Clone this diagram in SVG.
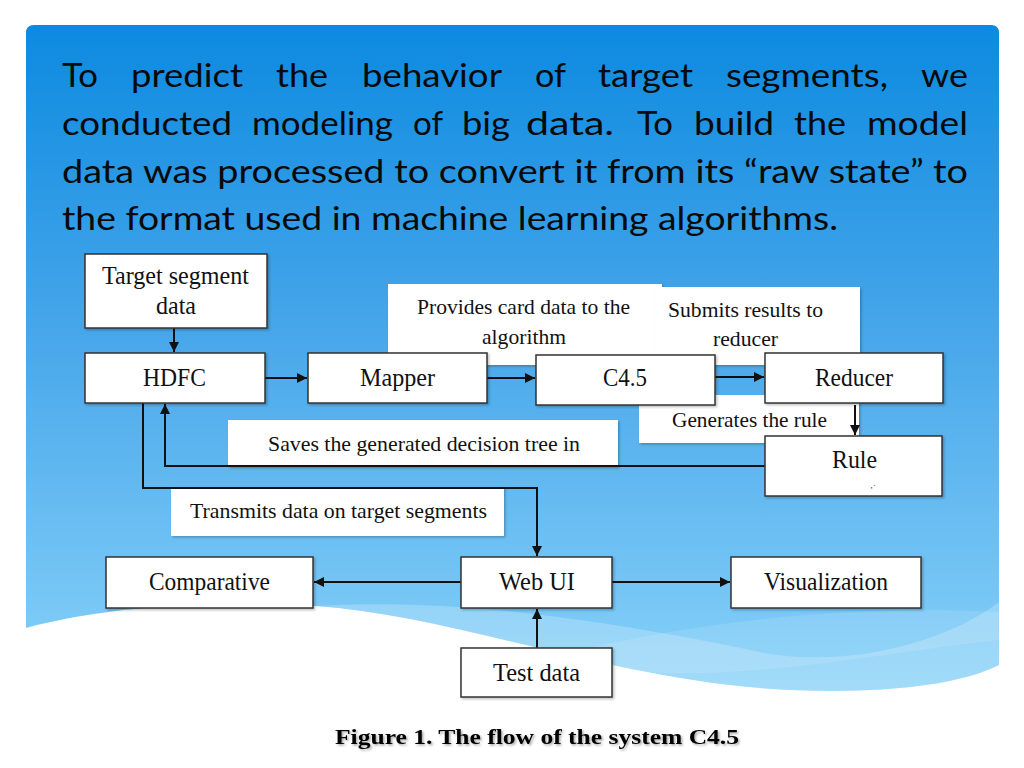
<svg xmlns="http://www.w3.org/2000/svg" width="1024" height="768" viewBox="0 0 1024 768">
<defs>
<linearGradient id="bg" x1="0" y1="25" x2="0" y2="695" gradientUnits="userSpaceOnUse">
<stop offset="0" stop-color="#0c8ae0"/>
<stop offset="0.45" stop-color="#46a6ea"/>
<stop offset="0.85" stop-color="#76c6f5"/>
<stop offset="1" stop-color="#88d2f8"/>
</linearGradient>
<filter id="sh" x="-5%" y="-10%" width="110%" height="125%">
<feDropShadow dx="1.5" dy="1.5" stdDeviation="1" flood-color="#000" flood-opacity="0.25"/>
</filter>
<filter id="tsh" x="-5%" y="-30%" width="110%" height="160%">
<feDropShadow dx="1.5" dy="1.5" stdDeviation="1.2" flood-color="#000" flood-opacity="0.35"/>
</filter>
<marker id="ah" viewBox="0 0 10 10" refX="10" refY="5" markerWidth="11" markerHeight="10" markerUnits="userSpaceOnUse" orient="auto">
<path d="M0,0 L10,5 L0,10 Z" fill="#111"/>
</marker>
<style>
.body{font-family:Lato,"Noto Sans","Liberation Sans",sans-serif;font-size:33px;fill:#0a0a0a}
.node rect{fill:#fff;stroke:#333;stroke-width:1.5}
.lbl rect{fill:#fff}
.t{font-family:"Liberation Serif","Times New Roman",serif;font-size:25px;fill:#111}
.l{font-family:"Liberation Serif","Times New Roman",serif;font-size:22px;fill:#111}
.c{fill:none;stroke:#111;stroke-width:2}
.cap{font-family:"Liberation Serif","Times New Roman",serif;font-size:21px;font-weight:bold;fill:#000}
</style>
</defs>
<rect width="1024" height="768" fill="#fff"/>
<path d="M34 25 H991 Q999 25 999 33 V665 C950 690 850 695 760 688 C600 675 450 615 315 606 C200 600 100 608 26 628 V33 Q26 25 34 25 Z" fill="url(#bg)"/>
<path d="M315 606 C450 598 600 618 760 652 C850 670 950 640 999 602 V665 C950 690 850 695 760 688 C600 675 450 615 315 606 Z" fill="#fff" opacity="0.22"/>
<path d="M560 655 C700 620 850 605 999 612 V640 C900 650 760 680 640 672 Z" fill="#fff" opacity="0.12"/>

<g id="paragraph" class="body">
<text x="62" y="87" textLength="36" lengthAdjust="spacingAndGlyphs">To</text>
<text x="131" y="87" textLength="112" lengthAdjust="spacingAndGlyphs">predict</text>
<text x="276" y="87" textLength="52" lengthAdjust="spacingAndGlyphs">the</text>
<text x="362" y="87" textLength="140" lengthAdjust="spacingAndGlyphs">behavior</text>
<text x="535" y="87" textLength="31" lengthAdjust="spacingAndGlyphs">of</text>
<text x="598" y="87" textLength="95" lengthAdjust="spacingAndGlyphs">target</text>
<text x="726" y="87" textLength="162" lengthAdjust="spacingAndGlyphs">segments,</text>
<text x="921" y="87" textLength="47" lengthAdjust="spacingAndGlyphs">we</text>
<text x="62" y="135" textLength="170" lengthAdjust="spacingAndGlyphs">conducted</text>
<text x="252" y="135" textLength="141" lengthAdjust="spacingAndGlyphs">modeling</text>
<text x="413" y="135" textLength="30" lengthAdjust="spacingAndGlyphs">of</text>
<text x="462" y="135" textLength="48" lengthAdjust="spacingAndGlyphs">big</text>
<text x="526" y="135" textLength="88" lengthAdjust="spacingAndGlyphs">data.</text>
<text x="637" y="135" textLength="36" lengthAdjust="spacingAndGlyphs">To</text>
<text x="694" y="135" textLength="80" lengthAdjust="spacingAndGlyphs">build</text>
<text x="794" y="135" textLength="52" lengthAdjust="spacingAndGlyphs">the</text>
<text x="867" y="135" textLength="101" lengthAdjust="spacingAndGlyphs">model</text>
<text x="62" y="183" textLength="906" lengthAdjust="spacingAndGlyphs">data was processed to convert it from its “raw state” to</text>
<text x="62" y="230" textLength="776" lengthAdjust="spacingAndGlyphs">the format used in machine learning algorithms.</text>
</g>

<g id="label-provides" class="lbl" filter="url(#sh)">
<rect x="388" y="284" width="274" height="81"/>
</g>
<g id="label-submits" class="lbl" filter="url(#sh)">
<rect x="655" y="287" width="205" height="78"/>
</g>
<g id="label-generates" class="lbl" filter="url(#sh)">
<rect x="639" y="395" width="220" height="48"/>
</g>
<g id="label-saves" class="lbl" filter="url(#sh)">
<rect x="228" y="420" width="390" height="47"/>
</g>
<g id="label-transmits" class="lbl" filter="url(#sh)">
<rect x="171" y="487" width="333" height="49"/>
</g>
<g class="l">
<text x="417" y="314" textLength="213" lengthAdjust="spacingAndGlyphs">Provides card data to the</text>
<text x="482" y="344" textLength="84" lengthAdjust="spacingAndGlyphs">algorithm</text>
<text x="668" y="317" textLength="155" lengthAdjust="spacingAndGlyphs">Submits results to</text>
<text x="713" y="346" textLength="65" lengthAdjust="spacingAndGlyphs">reducer</text>
<text x="672" y="427" textLength="155" lengthAdjust="spacingAndGlyphs">Generates the rule</text>
<text x="268" y="451" textLength="312" lengthAdjust="spacingAndGlyphs">Saves the generated decision tree in</text>
<text x="190" y="518" textLength="297" lengthAdjust="spacingAndGlyphs">Transmits data on target segments</text>
</g>

<g id="connectors">
<path class="c" d="M174 328 V352" marker-end="url(#ah)"/>
<path class="c" d="M265 378 H307" marker-end="url(#ah)"/>
<path class="c" d="M487 378 H535" marker-end="url(#ah)"/>
<path class="c" d="M715 377 H764" marker-end="url(#ah)"/>
<path class="c" d="M855 405 V435" marker-end="url(#ah)"/>
<path class="c" d="M765 466 H165 V404" marker-end="url(#ah)"/>
<path class="c" d="M143 403 V488 H537 V556" marker-end="url(#ah)"/>
<path class="c" d="M461 582 H314" marker-end="url(#ah)"/>
<path class="c" d="M612 582 H730" marker-end="url(#ah)"/>
<path class="c" d="M537 648 V609" marker-end="url(#ah)"/>
</g>

<g id="n-target" class="node" filter="url(#sh)">
<rect x="85" y="254" width="182" height="74"/>
</g>
<g class="t">
<text x="102" y="284" textLength="147" lengthAdjust="spacingAndGlyphs">Target segment</text>
<text x="156" y="314" textLength="40" lengthAdjust="spacingAndGlyphs">data</text>
</g>
<g id="n-hdfc" class="node" filter="url(#sh)"><rect x="85" y="353" width="180" height="50"/></g>
<text class="t" x="143" y="386" textLength="63" lengthAdjust="spacingAndGlyphs">HDFC</text>
<g id="n-mapper" class="node" filter="url(#sh)"><rect x="308" y="353" width="179" height="50"/></g>
<text class="t" x="360" y="386" textLength="75" lengthAdjust="spacingAndGlyphs">Mapper</text>
<g id="n-c45" class="node" filter="url(#sh)"><rect x="536" y="355" width="179" height="50"/></g>
<text class="t" x="603" y="386" textLength="44" lengthAdjust="spacingAndGlyphs">C4.5</text>
<g id="n-reducer" class="node" filter="url(#sh)"><rect x="765" y="353" width="178" height="50"/></g>
<text class="t" x="815" y="386" textLength="78" lengthAdjust="spacingAndGlyphs">Reducer</text>
<g id="n-rule" class="node" filter="url(#sh)"><rect x="765" y="436" width="177" height="60"/></g>
<text class="t" x="832" y="468" textLength="45" lengthAdjust="spacingAndGlyphs">Rule</text>
<text x="873" y="488" font-family="Liberation Serif, serif" font-size="9" fill="#333" text-anchor="middle">‚·</text>
<g id="n-comparative" class="node" filter="url(#sh)"><rect x="106" y="557" width="207" height="51"/></g>
<text class="t" x="149" y="590" textLength="121" lengthAdjust="spacingAndGlyphs">Comparative</text>
<g id="n-webui" class="node" filter="url(#sh)"><rect x="461" y="557" width="151" height="51"/></g>
<text class="t" x="499" y="590" textLength="76" lengthAdjust="spacingAndGlyphs">Web UI</text>
<g id="n-visualization" class="node" filter="url(#sh)"><rect x="731" y="557" width="190" height="51"/></g>
<text class="t" x="764" y="590" textLength="124" lengthAdjust="spacingAndGlyphs">Visualization</text>
<g id="n-testdata" class="node" filter="url(#sh)"><rect x="461" y="648" width="151" height="49"/></g>
<text class="t" x="493" y="681" textLength="87" lengthAdjust="spacingAndGlyphs">Test data</text>

<text class="cap" x="335" y="744" textLength="404" lengthAdjust="spacingAndGlyphs" filter="url(#tsh)">Figure 1. The flow of the system C4.5</text>
</svg>
